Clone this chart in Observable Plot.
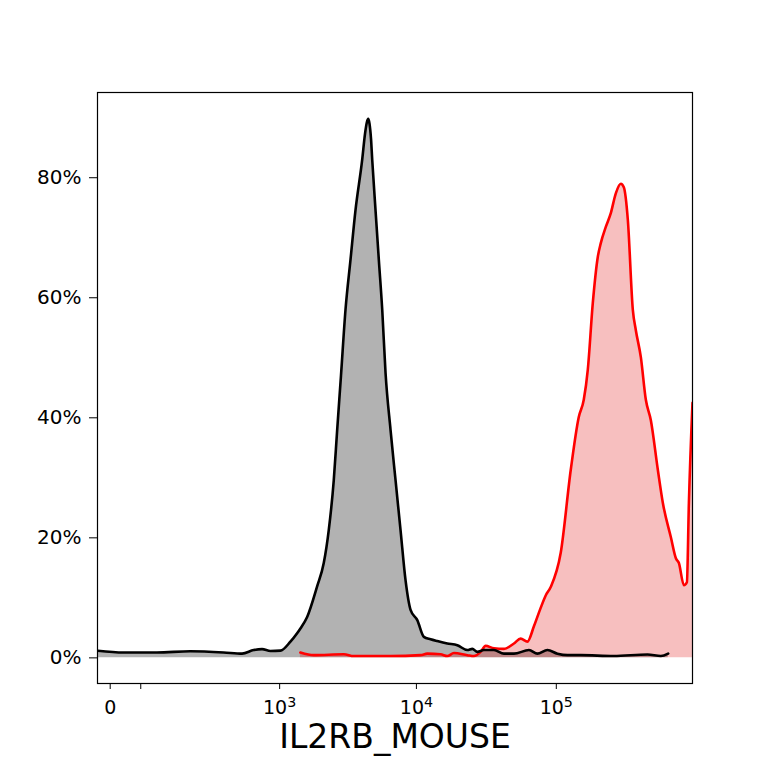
<!DOCTYPE html>
<html>
<head>
<meta charset="utf-8">
<script src="https://cdn.jsdelivr.net/npm/d3@7"></script>
<script src="https://cdn.jsdelivr.net/npm/@observablehq/plot@0.6"></script>
<style>
  html, body { margin: 0; padding: 0; background: white; }
  #chart { width: 768px; height: 768px; }
</style>
</head>
<body>
<div id="chart"></div>
<script>
// Histogram of IL2RB_MOUSE (x = fluorescence, y = % of max)
const blackX = [-15, 16, 76, 180, 359, 509, 630, 733, 850, 1013, 1206, 1354, 1433, 1608, 1906, 2133, 2321, 2526, 2675, 2851, 3076, 3344, 3637, 4067, 4262, 4392, 4496, 4594, 4710, 4806, 5077, 5365, 5677, 5996, 6515, 7079, 7690, 8356, 9076, 10144, 11310, 12634, 14111, 16645, 19635, 23153, 25140, 27297, 30433, 35878, 42293, 49857, 63835, 73306, 86414, 101838, 120040, 149358, 256872, 447414, 556710, 627726];
const blackY = [1.2, 0.9, 0.9, 1.1, 0.9, 0.7, 1.3, 1.45, 1.15, 1.2, 2.7, 4.1, 4.9, 6.8, 11.9, 15.8, 21.3, 29.6, 38, 47, 58, 66.3, 74.6, 83, 87.3, 89.2, 89.8, 89.0, 86.5, 83, 74.6, 66.3, 58, 47.5, 38, 29.6, 21.3, 12.9, 8, 6.3, 3.5, 3.1, 2.8, 2.4, 2.1, 1.3, 1.5, 1.0, 1.3, 1.3, 0.7, 0.7, 1.3, 0.7, 1.3, 0.7, 0.45, 0.45, 0.3, 0.55, 0.3, 0.7];

const redX = [1433, 1799, 2989, 3534, 6515, 10712, 11966, 14904, 16645, 18565, 23153, 25813, 28822, 31297, 35878, 42293, 49857, 55677, 62179, 69319, 77000, 84018, 91225, 107520, 126740, 144534, 157008, 167693, 182054, 197650, 207643, 225436, 244761, 265736, 288460, 303065, 323651, 351384, 369151, 400772, 435098, 472342, 529967, 575375, 656251, 712470, 748506, 812592, 853710, 882156, 936000];
const redY = [0.9, 0.45, 0.6, 0.3, 0.3, 0.45, 0.7, 0.6, 0.3, 0.8, 0.45, 0.3, 1.0, 2.0, 1.6, 1.5, 2.4, 3.2, 2.7, 5.3, 8.2, 10.4, 11.8, 17.5, 31.3, 40.1, 43, 48, 59.1, 66.8, 69.1, 71.8, 74.1, 77.4, 79, 78.4, 73, 58, 54.6, 50.1, 43, 39.6, 31.3, 25.8, 20.1, 16.6, 15.8, 12.1, 12.6, 25.8, 42.5];

const xMajorTicks = [0, 1e3, 1e4, 1e5];
const xMajorBases = ["0", "10", "10", "10"];
const xMajorExponents = ["", "3", "4", "5"];
const xMinorTicks = [43];
const yTicks = [0, 20, 40, 60, 80];
const xLabel = "IL2RB_MOUSE";

const black = blackX.map((x, i) => ({x, y: blackY[i]}));
const red = redX.map((x, i) => ({x, y: redY[i]}));

const chart = Plot.plot({
  width: 768,
  height: 768,
  marginLeft: 97,
  marginRight: 76,
  marginTop: 92,
  marginBottom: 85,
  style: {fontFamily: "DejaVu Sans", background: "white", color: "black"},
  x: {type: "symlog", constant: 66, domain: [-15.3, 936000]},
  y: {domain: [-4.27, 94.2]},
  marks: [
    Plot.areaY(black, {x: "x", y: "y", fill: "black", fillOpacity: 0.3, curve: "monotone-x", clip: true}),
    Plot.areaY(red, {x: "x", y: "y", fill: "#e00000", fillOpacity: 0.25, curve: "monotone-x", clip: true}),
    Plot.lineY(red, {x: "x", y: "y", stroke: "red", strokeWidth: 2.6, curve: "monotone-x", clip: true}),
    Plot.lineY(black, {x: "x", y: "y", stroke: "black", strokeWidth: 2.6, curve: "monotone-x", clip: true}),
    Plot.frame({stroke: "black", strokeWidth: 1.2}),
    Plot.axisY({ticks: yTicks, tickFormat: d => d + "%", tickSize: 8, tickPadding: 8, fontSize: 20, label: null}),
    Plot.axisX({ticks: xMajorTicks, tickFormat: d => { const i = xMajorTicks.indexOf(d); return xMajorBases[i] + (xMajorExponents[i] ? "^" + xMajorExponents[i] : ""); }, tickSize: 6, tickPadding: 11, fontSize: 19, label: null}),
    Plot.axisX({ticks: xMinorTicks, tickFormat: () => "", tickSize: 6, label: null}),
    Plot.text([xLabel], {text: d => d, frameAnchor: "bottom", dy: 64, fontSize: 33, fill: "black"})
  ]
});

// Render "10^k" labels with a raised, smaller exponent (like mathtext)
const svgNS = "http://www.w3.org/2000/svg";
chart.querySelectorAll("text").forEach(t => {
  const m = t.textContent.match(/^(\d+)\^(\d+)$/);
  if (m) {
    while (t.firstChild) t.removeChild(t.firstChild);
    const a = document.createElementNS(svgNS, "tspan");
    a.textContent = m[1];
    const b = document.createElementNS(svgNS, "tspan");
    b.textContent = m[2];
    b.setAttribute("dy", "-0.5em");
    b.setAttribute("font-size", "0.75em");
    t.append(a, b);
  }
});
document.getElementById("chart").appendChild(chart);
</script>
</body>
</html>
